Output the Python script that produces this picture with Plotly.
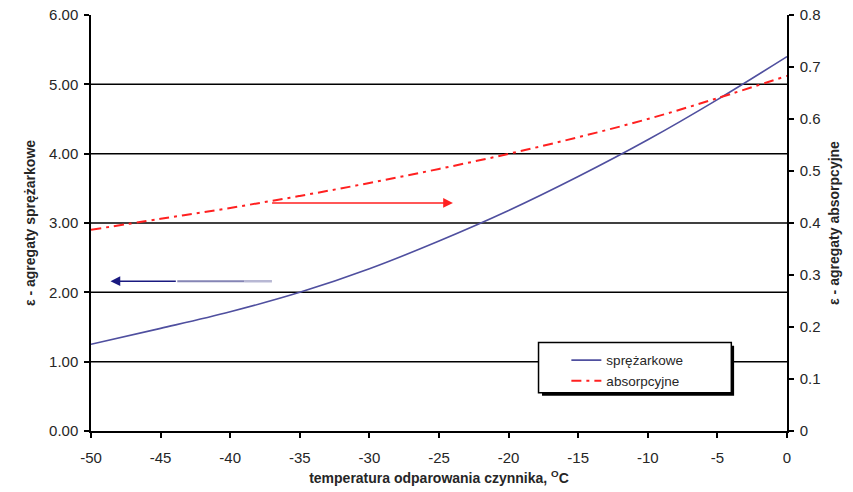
import plotly.graph_objects as go

# evaporation temperature, deg C
temp = [-50, -45, -40, -35, -30, -25, -20, -15, -10, -5, 0]
# COP of compressor units (left axis)
eps_compressor = [1.25, 1.48, 1.72, 2.00, 2.34, 2.74, 3.18, 3.67, 4.20, 4.78, 5.40]
# COP of absorption units (right axis)
eps_absorption = [0.387, 0.408, 0.429, 0.452, 0.477, 0.504, 0.533, 0.565, 0.600, 0.640, 0.683]

x_ticks = list(range(-50, 1, 5))
left_ticks = [0, 1, 2, 3, 4, 5, 6]
right_ticks = [0, 0.1, 0.2, 0.3, 0.4, 0.5, 0.6, 0.7, 0.8]

FONT = "Arial, Liberation Sans, sans-serif"
BLUE = "#4f4f9f"
RED = "#ff2020"
TXT = "#262626"
TITLE_FONT = dict(family=FONT, size=14, color=TXT)

fig = go.Figure()
fig.add_trace(go.Scatter(x=temp, y=eps_compressor, mode="lines", name="sprężarkowe",
                         line=dict(color=BLUE, width=1.6), line_shape="spline"))
fig.add_trace(go.Scatter(x=temp, y=eps_absorption, mode="lines", name="absorpcyjne",
                         yaxis="y2", line=dict(color=RED, width=2, dash="10px,5px,3px,5px"),
                         line_shape="spline"))

# horizontal grid lines
for v in left_ticks[1:-1]:
    fig.add_shape(type="line", xref="paper", x0=0, x1=1, yref="y", y0=v, y1=v,
                  line=dict(color="black", width=1.5), layer="below")

# arrows pointing to the axis of each series
fig.add_annotation(x=-24.0, y=3.29, ax=-37.1, ay=3.29, xref="x", yref="y", axref="x", ayref="y",
                   text="", showarrow=True, arrowhead=2, arrowsize=1.3, arrowwidth=1.5, arrowcolor=RED)
fig.add_shape(type="line", x0=-39.0, x1=-37.0, y0=2.16, y1=2.16, xref="x", yref="y",
              line=dict(color="#b8b8d4", width=2.5))
fig.add_shape(type="line", x0=-43.8, x1=-39.0, y0=2.16, y1=2.16, xref="x", yref="y",
              line=dict(color="#8585b5", width=2))
fig.add_annotation(x=-48.6, y=2.16, ax=-43.8, ay=2.16, xref="x", yref="y", axref="x", ayref="y",
                   text="", showarrow=True, arrowhead=2, arrowsize=1.3, arrowwidth=1.5,
                   arrowcolor="#1a1a80")

# legend frame with drop shadow
fig.add_shape(type="rect", xref="paper", yref="paper", x0=0.648, x1=0.924, y0=0.085, y1=0.205,
              line=dict(width=0), fillcolor="black", layer="above")
fig.add_shape(type="rect", xref="paper", yref="paper", x0=0.643, x1=0.92, y0=0.092, y1=0.213,
              line=dict(color="black", width=1.5), fillcolor="white", layer="above")

tick_common = dict(showgrid=False, zeroline=False, ticklen=5, tickwidth=1.5, tickcolor="black",
                   automargin=False)

fig.update_layout(
    width=853, height=492,
    margin=dict(l=91, r=66, t=15, b=61),
    paper_bgcolor="white", plot_bgcolor="white",
    font=dict(family=FONT, size=15, color=TXT),
    showlegend=True,
    legend=dict(x=0.683, y=0.207, xanchor="left", yanchor="top", bgcolor="rgba(0,0,0,0)",
                borderwidth=0, font=dict(size=13.5, color=TXT), tracegroupgap=0,
                itemwidth=30),
    xaxis=dict(range=[-50, 0], tickvals=x_ticks, ticktext=[str(v) for v in x_ticks],
               showline=True, linecolor="black", linewidth=1.5, ticks="outside",
               ticklabelstandoff=7,
               title=dict(text="<b>temperatura odparowania czynnika, <sup>O</sup>C</b>",
                          font=TITLE_FONT, standoff=8), **tick_common),
    yaxis=dict(range=[0, 6], tickvals=left_ticks, ticktext=[f"{v:.2f}" for v in left_ticks],
               showline=True, linecolor="black", linewidth=1.5, ticks="outside",
               ticklabelstandoff=3,
               title=dict(text="<b>ε - agregaty sprężarkowe</b>", font=TITLE_FONT,
                          standoff=10), **tick_common),
    yaxis2=dict(range=[0, 0.8], tickvals=right_ticks, ticktext=[f"{v:g}" for v in right_ticks],
                overlaying="y", side="right", anchor="x",
                showline=True, linecolor="black", linewidth=1.5, ticks="outside",
                ticklabelstandoff=3,
                title=dict(text="<b>ε - agregaty absorpcyjne</b>", font=TITLE_FONT,
                           standoff=10), **tick_common),
    # inner halves of the tick marks, so the ticks cross the axis lines
    xaxis2=dict(range=[-50, 0], tickvals=x_ticks, showticklabels=False, overlaying="x",
                side="bottom", anchor="y", ticks="inside", showline=False, **tick_common),
    yaxis3=dict(range=[0, 6], tickvals=left_ticks, showticklabels=False, overlaying="y",
                side="left", anchor="x", ticks="inside", showline=False, **tick_common),
    yaxis4=dict(range=[0, 0.8], tickvals=right_ticks, showticklabels=False, overlaying="y",
                side="right", anchor="x", ticks="inside", showline=False, **tick_common),
)

fig.write_html("out.html")
